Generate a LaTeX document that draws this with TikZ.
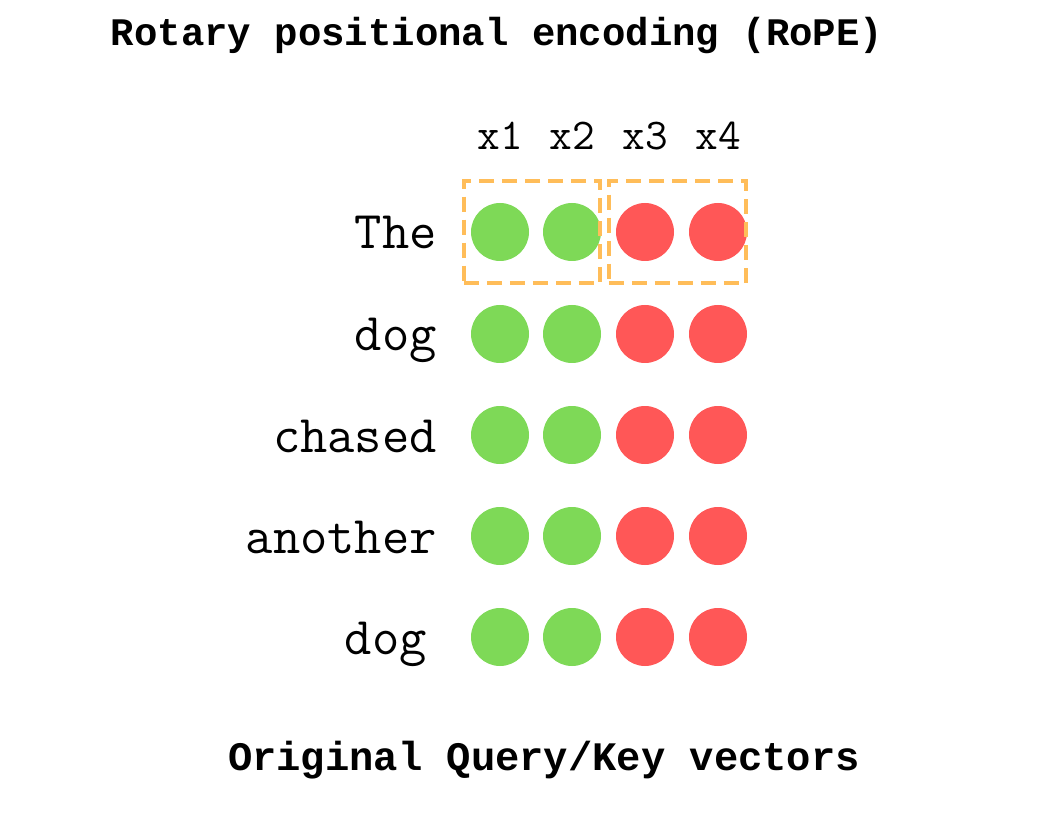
\documentclass[tikz,border=0pt]{standalone}
\usepackage{fontspec}
\usepackage{xcolor}
\usepackage{tikz}
\usetikzlibrary{positioning, fit}
\newfontfamily\headfont{Liberation Mono}
\definecolor{dotgreen}{HTML}{7ED957}
\definecolor{dotred}{HTML}{FF5757}
\definecolor{boxorange}{HTML}{FFBD59}

\begin{document}
\begin{tikzpicture}[x=1pt,y=-1pt,
			dot/.style={circle,minimum size=58pt,inner sep=0pt},
			green dot/.style={dot,fill=dotgreen},
			red dot/.style={dot,fill=dotred},
			word/.style={font=\ttfamily\fontsize{53}{53}\selectfont,inner sep=0pt,anchor=base east},
			col label/.style={font=\ttfamily\fontsize{44}{44}\selectfont,inner sep=0pt},
			head/.style={font=\headfont\bfseries\fontsize{39}{39}\selectfont,inner sep=0pt},
			pair box/.style={draw=boxorange,line width=3.5pt,dash pattern=on 15pt off 8pt,
				inner xsep=3pt,inner ysep=22pt,xshift=-4pt}]
			
			\useasboundingbox (0,0) rectangle (1042,818);
			
			\node[head] (title) at (497,36) {Rotary positional encoding (RoPE)};
			
			\foreach \c/\x in {1/500,2/572,3/645,4/718}
			\node[col label] (x\c) at (\x,136) {x\c};
			
			\foreach \r/\y/\w/\e in {1/232/The/437,2/334/dog/437,3/435/chased/437,4/536/another/437,5/637/dog/427}{
				\node[word] (w\r) at (\e,\y+17) {\w};
				\node[green dot] (r\r-c1) at (500,\y) {};
				\node[green dot] (r\r-c2) at (572,\y) {};
				\node[red dot] (r\r-c3) at (645,\y) {};
				\node[red dot] (r\r-c4) at (718,\y) {};
			}
			
			\node[pair box, fit=(r1-c1)(r1-c2)] (pair a) {};
			\node[pair box, fit=(r1-c3)(r1-c4)] (pair b) {};
			
			\node[head, font=\headfont\bfseries\fontsize{40.5}{40.5}\selectfont] (caption) at (544,760) {Original Query/Key vectors};
		\end{tikzpicture}
\end{document}
